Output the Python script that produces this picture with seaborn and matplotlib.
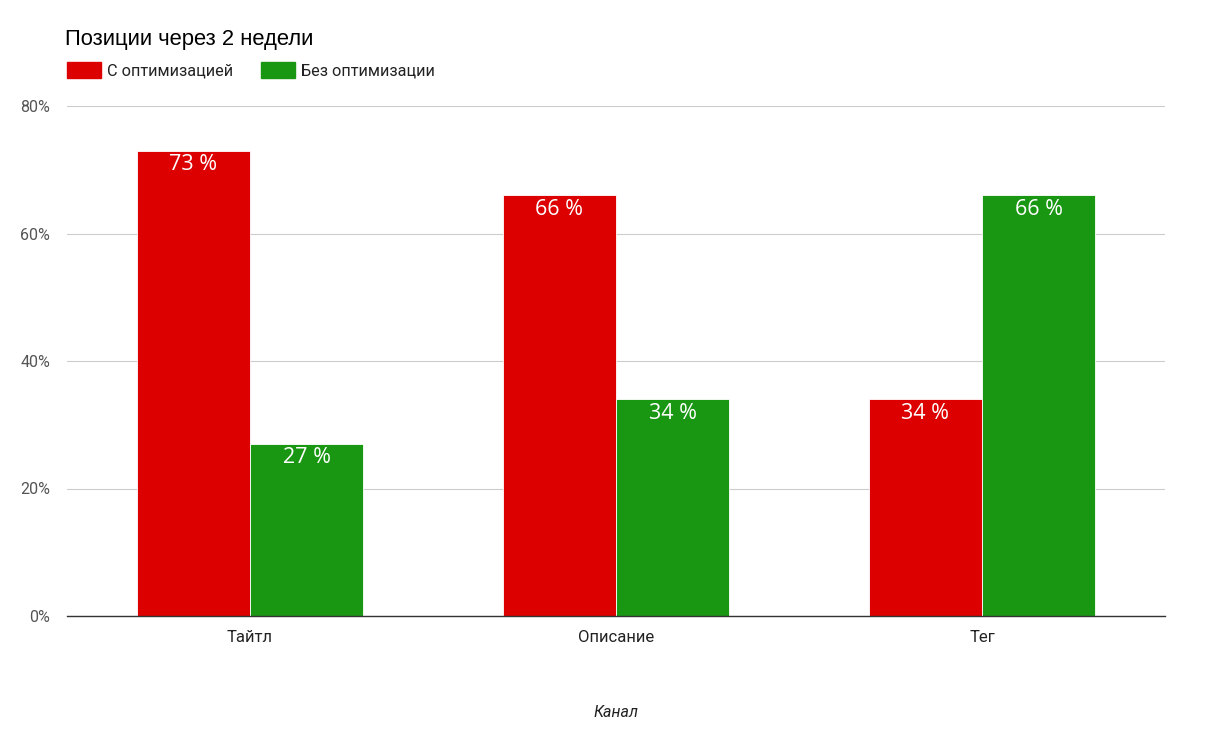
import matplotlib
matplotlib.use("Agg")
import matplotlib.pyplot as plt
import matplotlib.patches as mpatches
import seaborn as sns
import pandas as pd

categories = ["Тайтл", "Описание", "Тег"]
series_names = ["С оптимизацией", "Без оптимизации"]
with_opt = [0.73, 0.66, 0.34]
without_opt = [0.27, 0.34, 0.66]
y_ticks = [0, 0.2, 0.4, 0.6, 0.8]
y_tick_labels = ["0%", "20%", "40%", "60%", "80%"]
colors = ["#dd0000", "#1a9712"]

df = pd.DataFrame({
    "Канал": categories * 2,
    "series": [series_names[0]] * 3 + [series_names[1]] * 3,
    "value": with_opt + without_opt,
})

sns.set_theme(style="white")
plt.rcParams['font.family'] = ['Roboto', 'DejaVu Sans']

fig = plt.figure(figsize=(12.05, 7.41), dpi=100)
ax = fig.add_axes([67/1205, 1-616/741, (1165-67)/1205, (616-106)/741])

sns.barplot(data=df, x="Канал", y="value", hue="series", palette=colors,
            width=0.62, ax=ax, legend=False, edgecolor="white", linewidth=0.6,
            saturation=1)

ax.set_ylim(0, 0.8)
ax.set_xlim(-0.5, 2.5)
ax.set_yticks(y_ticks)
ax.set_yticklabels(y_tick_labels, color="#555555", fontsize=11.5)
ax.tick_params(axis="x", colors="#222222", labelsize=12, length=0, pad=10)
ax.tick_params(axis="y", length=0, pad=12)
ax.yaxis.grid(True, color="#cccccc", linewidth=0.8)
ax.set_axisbelow(True)
for s in ["top", "right", "left"]:
    ax.spines[s].set_visible(False)
ax.spines["bottom"].set_color("#333333")
ax.spines["bottom"].set_linewidth(1)
ax.set_ylabel("")
ax.set_xlabel("Канал", fontsize=11.5, style="italic", color="#222222", labelpad=43)

for cont in ax.containers:
    for bar in cont:
        h = bar.get_height()
        ax.annotate(f"{round(h*100)} %", (bar.get_x() + bar.get_width()/2, h),
                    xytext=(0, -2.5), textcoords="offset points",
                    ha="center", va="top", color="white", fontsize=15.5,
                    family=["Open Sans", "DejaVu Sans"])

fig.text(65/1205, 1-39.5/741, "Позиции через 2 недели", fontsize=15.8,
         family=["Liberation Sans", "DejaVu Sans"], color="black", va="center", ha="left")

handles = [mpatches.Patch(facecolor=c, edgecolor=c, label=n) for c, n in zip(colors, series_names)]
leg = fig.legend(handles=handles, loc="center left", bbox_to_anchor=(62/1205, 1-70/741),
                 ncol=2, frameon=False, fontsize=11.7, handlelength=2.1, handleheight=1.2,
                 columnspacing=1.7, handletextpad=0.37, borderpad=0.0, borderaxespad=0.3)
for t in leg.get_texts():
    t.set_color("#222222")

fig.savefig("out.png", dpi=100)
